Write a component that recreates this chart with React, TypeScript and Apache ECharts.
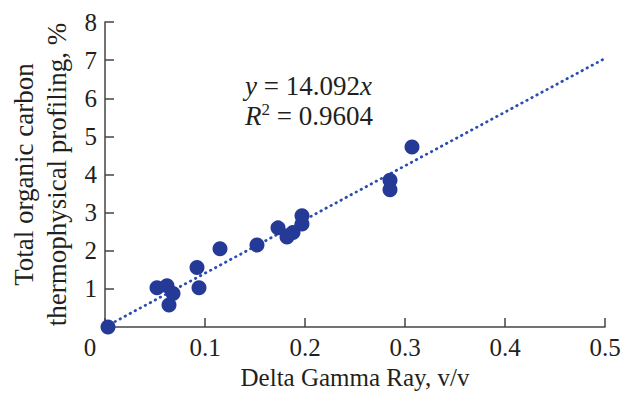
import React, { useEffect, useRef } from "react";
import * as echarts from "echarts";

const xValues = [0.003, 0.052, 0.062, 0.068, 0.064, 0.092, 0.094, 0.115, 0.152, 0.173, 0.182, 0.188, 0.197, 0.197, 0.285, 0.285, 0.307];
const yValues = [0.0, 1.03, 1.08, 0.88, 0.58, 1.56, 1.03, 2.05, 2.15, 2.6, 2.36, 2.48, 2.92, 2.7, 3.85, 3.6, 4.72];
const slope = 14.092;
const trendX = [0.005, 0.5];
const xTicks = [0, 0.1, 0.2, 0.3, 0.4, 0.5];
const yTicks = [0, 1, 2, 3, 4, 5, 6, 7, 8];

const FONT = "Liberation Serif";
const TEXT = "#231f20";

export default function App() {
  const ref = useRef<HTMLDivElement>(null);
  useEffect(() => {
    if (!ref.current) return;
    document.body.style.margin = "0";
    const chart = echarts.init(ref.current, undefined, { renderer: "svg" });
    const points = xValues.map((x, i) => [x, yValues[i]]);
    const trend = trendX.map((x) => [x, slope * x]);
    chart.setOption({
      animation: false,
      backgroundColor: "#ffffff",
      grid: { left: 105, right: 24, top: 22, bottom: 69, containLabel: false, outerBoundsMode: "none" },
      xAxis: {
        type: "value",
        min: xTicks[0],
        max: xTicks[xTicks.length - 1],
        interval: 0.1,
        name: "Delta Gamma Ray, v/v",
        nameLocation: "middle",
        nameGap: 37,
        nameTextStyle: { fontFamily: FONT, fontSize: 25, color: TEXT },
        axisLine: { show: true, lineStyle: { color: "#444", width: 1.5 } },
        axisTick: { show: true, inside: true, length: 9, lineStyle: { color: "#444", width: 1.5 } },
        splitLine: { show: false },
        axisLabel: {
          fontFamily: FONT,
          fontSize: 25,
          color: TEXT,
          margin: 8,
          formatter: (v: number) => (v === 0 ? "{z|0}" : String(Math.round(v * 10) / 10)),
          rich: { z: { fontFamily: FONT, fontSize: 25, color: TEXT, padding: [0, 30, 0, 0] } },
        },
      },
      yAxis: {
        type: "value",
        min: yTicks[0],
        max: yTicks[yTicks.length - 1],
        interval: 1,
        name: "Total organic carbon\nthermophysical profiling, %",
        nameLocation: "middle",
        nameRotate: 90,
        nameGap: 32,
        nameTextStyle: { fontFamily: FONT, fontSize: 27, color: TEXT, lineHeight: 33 },
        axisLine: { show: true, lineStyle: { color: "#444", width: 1.5 } },
        axisTick: { show: true, inside: true, length: 9, lineStyle: { color: "#444", width: 1.5 } },
        splitLine: { show: false },
        axisLabel: {
          fontFamily: FONT,
          fontSize: 25,
          color: TEXT,
          margin: 8,
          formatter: (v: number) => (v === 0 ? "" : String(v)),
        },
      },
      series: [
        {
          type: "line",
          data: trend,
          symbol: "none",
          lineStyle: { color: "#2b4cb3", width: 2.8, type: [0.5, 5.2], cap: "round" },
          z: 1,
        },
        {
          type: "scatter",
          data: points,
          symbol: "circle",
          symbolSize: 15,
          itemStyle: { color: "#243a96", opacity: 1 },
          z: 2,
        },
      ],
      graphic: [
        {
          type: "text",
          left: 245,
          top: 71,
          style: {
            text: "{i|y} = 14.092{i|x}\n{i|R}{s|2} = 0.9604",
            fontFamily: FONT,
            fontSize: 27,
            lineHeight: 30,
            fill: TEXT,
            rich: {
              i: { fontFamily: FONT, fontStyle: "italic", fontSize: 27, fill: TEXT, lineHeight: 30 },
              s: { fontFamily: FONT, fontSize: 17, fill: TEXT, verticalAlign: "top", lineHeight: 30, padding: [0, 0, 10, 0] },
            },
          },
        },
      ],
    });
    return () => chart.dispose();
  }, []);
  return <div ref={ref} style={{ width: 629, height: 396 }} />;
}
